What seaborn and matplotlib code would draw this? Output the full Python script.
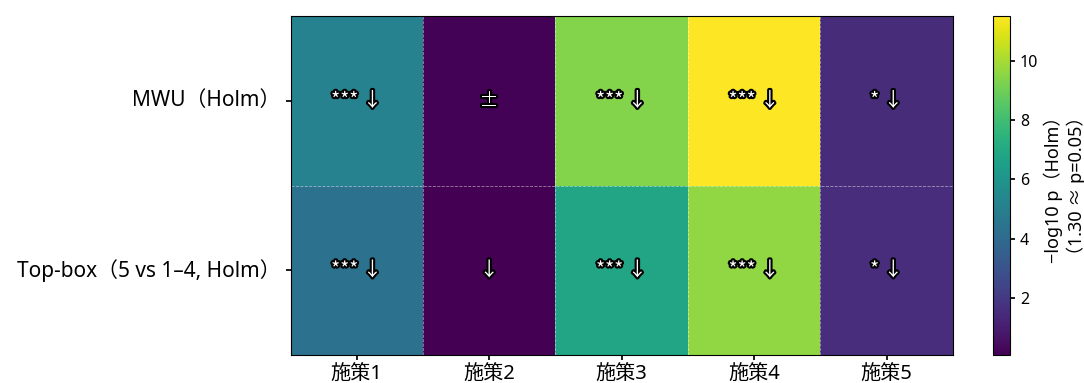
import numpy as np
import pandas as pd
import matplotlib
matplotlib.use("Agg")
import matplotlib.pyplot as plt
import matplotlib.patheffects as pe
import seaborn as sns

sns.set_theme(style="white")
plt.rcParams['font.family'] = ['Noto Sans', 'Noto Sans CJK JP', 'DejaVu Sans']
plt.rcParams['axes.unicode_minus'] = False
plt.rcParams['text.color'] = 'black'
plt.rcParams['axes.labelcolor'] = 'black'
plt.rcParams['xtick.color'] = 'black'
plt.rcParams['ytick.color'] = 'black'

# Measures compared, tests run, and -log10 of the Holm-adjusted p values
measures = ["施策1", "施策2", "施策3", "施策4", "施策5"]
tests = ["MWU（Holm）", "Top-box（5 vs 1–4, Holm）"]
mwu_logp = [5.1, 0.15, 9.4, 11.5, 1.5]
topbox_logp = [4.4, 0.08, 6.8, 9.6, 1.55]
mwu_marks = ["*** ↓", "±", "*** ↓", "*** ↓", "* ↓"]
topbox_marks = ["*** ↓", "↓", "*** ↓", "*** ↓", "* ↓"]

df = pd.DataFrame([mwu_logp, topbox_logp], index=tests, columns=measures)
marks = np.array([mwu_marks, topbox_marks])

fig = plt.figure(figsize=(10.84, 3.83), dpi=100)
ax = fig.add_axes([0.268, 0.073, 0.611, 0.885])
cax = fig.add_axes([0.916, 0.073, 0.016, 0.885])

sns.heatmap(df, ax=ax, cbar_ax=cax, cmap="viridis", annot=False,
            cbar_kws={"label": "−log10 p（Holm）\n（1.30 ≈ p=0.05）"})

# cell annotations: significance stars and direction
for i in range(marks.shape[0]):
    for j in range(marks.shape[1]):
        ax.text(j + 0.5, i + 0.5, marks[i, j], ha="center", va="center",
                fontsize=14, color="white",
                family=['Noto Sans CJK JP', 'DejaVu Sans'],
                path_effects=[pe.withStroke(linewidth=3, foreground="black")])

# dashed separators between cells
for x in range(1, len(measures)):
    ax.axvline(x, color="white", lw=0.6, ls="--", alpha=0.5)
for y in range(1, len(tests)):
    ax.axhline(y, color="white", lw=0.6, ls="--", alpha=0.5)

for s in ax.spines.values():
    s.set_visible(True)
    s.set_color("black")
    s.set_linewidth(0.8)

ax.set_xlabel("")
ax.set_ylabel("")
ax.tick_params(axis="x", labelsize=14.5, length=3.5, bottom=True, rotation=0)
ax.tick_params(axis="y", labelsize=15, length=3.5, left=True, rotation=0)

cax.tick_params(labelsize=11.5, length=3.5, right=True)
cax.yaxis.label.set_size(13)
cb = ax.collections[0].colorbar
cb.outline.set_visible(True)
cb.outline.set_edgecolor("black")
cb.outline.set_linewidth(0.8)

fig.savefig("out.png", dpi=100)
